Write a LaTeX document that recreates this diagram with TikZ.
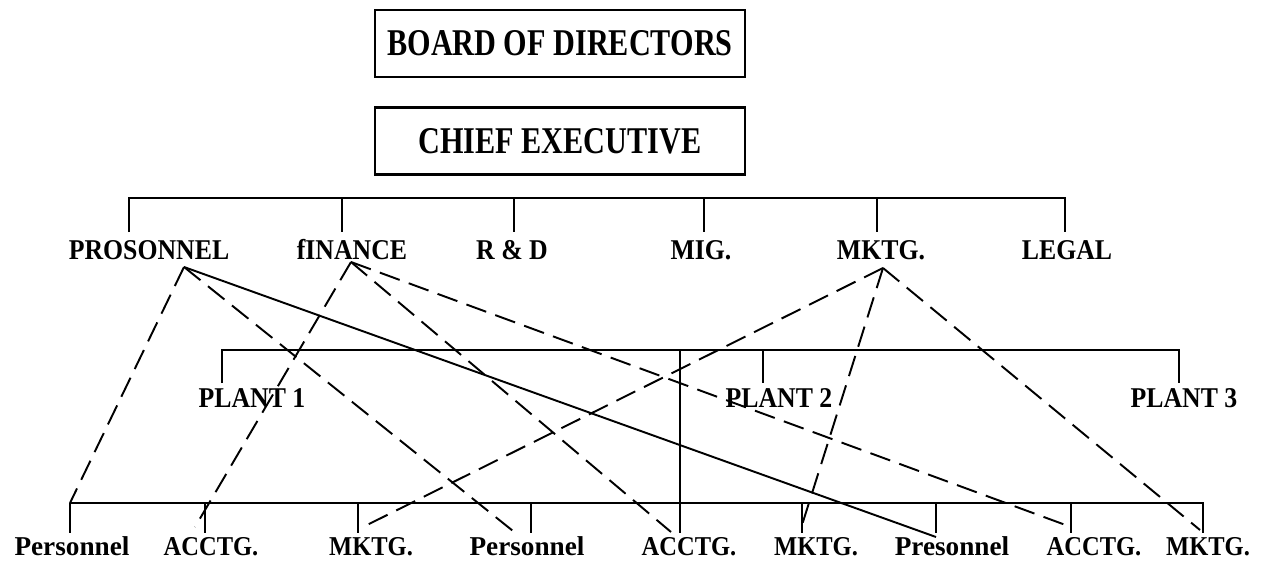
\documentclass[tikz,border=0pt]{standalone}
\usepackage{fontspec}
\setmainfont{Liberation Serif}[FakeStretch=0.9]
\newfontfamily\headfont{Liberation Serif}[FakeStretch=0.8]
\newfontfamily\plainfont{Liberation Serif}
\tikzset{
	headbox/.style={draw,line width=1.2pt,minimum width=7.4cm,minimum height=1.34cm,inner sep=0pt,
		font=\headfont\bfseries\fontsize{21.5}{24}\selectfont},
	toplabel/.style={anchor=base,inner sep=0pt,font=\bfseries\fontsize{16.3}{18}\selectfont},
	lowlabel/.style={anchor=base,inner sep=0pt,font=\bfseries\fontsize{15.5}{17}\selectfont},
	bus/.style={line width=1.1pt},
	link/.style={line width=1.1pt,dash pattern=on 12pt off 5.5pt},
}
\begin{document}
\begin{tikzpicture}[x=0.02cm,y=-0.02cm]
	\useasboundingbox (0,0) rectangle (1261,561);

	\node[headbox] (board) at (560,43.5) {BOARD OF DIRECTORS};
	\node[headbox] (chief) at (560,141) {CHIEF EXECUTIVE};

	% departments
	\draw[bus] (129,232) -- (129,198) -- (1065,198) -- (1065,232);
	\foreach \x in {342,514,704,877}
		\draw[bus] (\x,198) -- (\x,232);
	\node[toplabel] (pers) at (149,259) {PROSONNEL};
	\node[toplabel] (fin) at (352,259) {fINANCE};
	\node[toplabel] (rd) at (512,259) {R \& D};
	\node[toplabel] (mig) at (701,259) {MIG.};
	\node[toplabel] (mkt) at (881,259) {MKTG.};
	\node[toplabel] (legal) at (1067,259) {LEGAL};

	% plants
	\draw[bus] (222,383) -- (222,350) -- (1179,350) -- (1179,383);
	\draw[bus] (763,350) -- (763,383);
	\draw[bus] (680,350) -- (680,533);
	\node[toplabel] (plantA) at (252,407) {PLANT 1};
	\node[toplabel] (plantB) at (779,407) {PLANT 2};
	\node[toplabel] (plantC) at (1184,407) {PLANT 3};

	% plant units
	\draw[bus] (70,503) -- (1204,503);
	\foreach \x in {70,205,358,531,802,936,1071,1203}
		\draw[bus] (\x,503) -- (\x,533);
	\node[lowlabel,font=\plainfont\bfseries\fontsize{15.5}{17}\selectfont] (lpersA) at (72,555) {Personnel};
	\node[lowlabel] (laccA) at (211,555) {ACCTG.};
	\node[lowlabel] (lmktA) at (371,555) {MKTG.};
	\node[lowlabel,font=\plainfont\bfseries\fontsize{15.5}{17}\selectfont] (lpersB) at (527,555) {Personnel};
	\node[lowlabel] (laccB) at (689,555) {ACCTG.};
	\node[lowlabel] (lmktB) at (816,555) {MKTG.};
	\node[lowlabel,font=\plainfont\bfseries\fontsize{15.5}{17}\selectfont] (lpersC) at (952,555) {Presonnel};
	\node[lowlabel] (laccC) at (1094,555) {ACCTG.};
	\node[lowlabel] (lmktC) at (1208,555) {MKTG.};

	% functional links
	\coordinate (persTop) at (184,267);
	\coordinate (finTop) at (351,262);
	\coordinate (mktTop) at (883,268);
	\coordinate (persEndA) at (70,503);
	\coordinate (persEndB) at (518,535);
	\coordinate (persEndC) at (936,537);
	\coordinate (accEndA) at (195,527);
	\coordinate (accEndB) at (671,532);
	\coordinate (accEndC) at (1071,527);
	\coordinate (mktEndA) at (361,528);
	\coordinate (mktEndB) at (802,525);
	\coordinate (mktEndC) at (1200,530);

	\draw[link] (persTop) -- (persEndA);
	\draw[link] (persTop) -- (persEndB);
	\draw[bus] (persTop) -- (persEndC);
	\foreach \e in {accEndA,accEndB,accEndC}
		\draw[link] (finTop) -- (\e);
	\foreach \e in {mktEndA,mktEndB,mktEndC}
		\draw[link] (mktTop) -- (\e);
\end{tikzpicture}
\end{document}
